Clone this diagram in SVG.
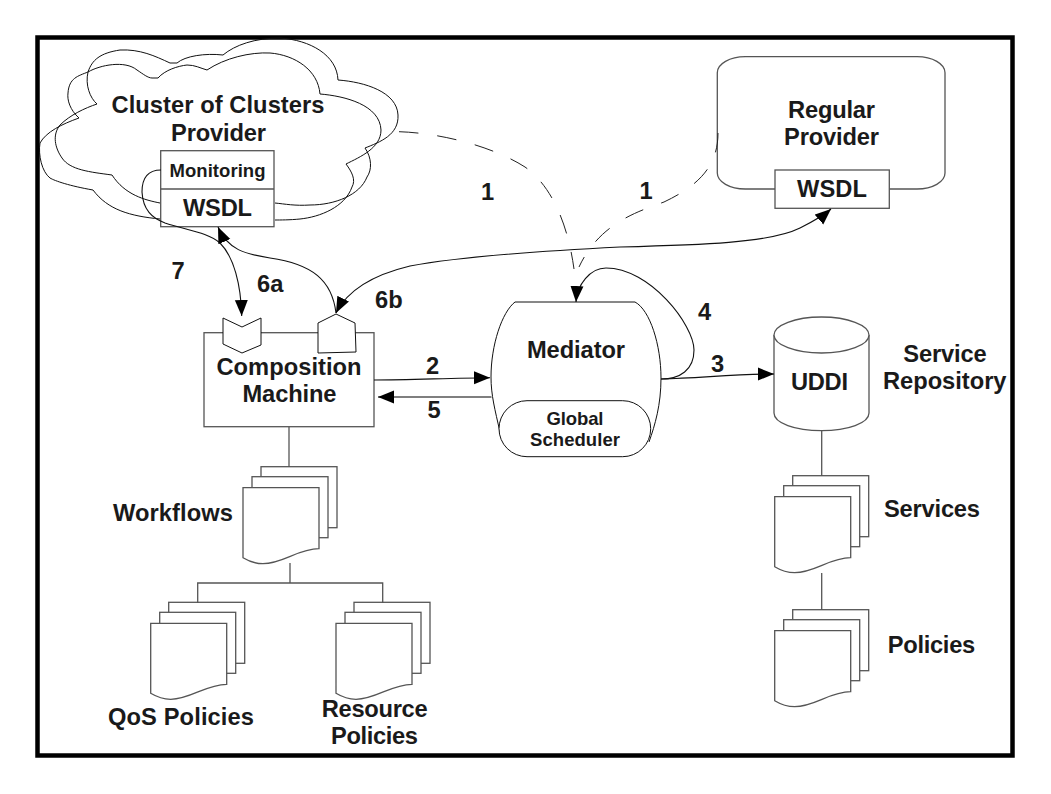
<svg xmlns="http://www.w3.org/2000/svg" xmlns:xlink="http://www.w3.org/1999/xlink" width="1051" height="794" viewBox="0 0 1051 794">
<style>
text{font-family:"Liberation Sans",Arial,sans-serif;font-weight:700;font-size:23.7px;fill:#1a1a1a}
.sm{font-size:18.5px}
.box{fill:#fff;stroke:#555;stroke-width:1.3}
.thin{fill:none;stroke:#111;stroke-width:1}
.wht{fill:#fff;stroke:#111;stroke-width:1}
.con{fill:none;stroke:#111;stroke-width:1.1}
.gry{fill:none;stroke:#555;stroke-width:1.3}
.dash{fill:none;stroke:#222;stroke-width:1;stroke-dasharray:19.5 19}
</style>
<defs>
<marker id="ah" markerUnits="userSpaceOnUse" markerWidth="17" markerHeight="14" refX="16" refY="7" orient="auto-start-reverse"><path d="M0 0.5L16 7L0 13.5Z" fill="#000"/></marker>
<g id="doc">
<rect class="box" x="18" y="-21" width="76" height="61"/>
<rect class="box" x="9" y="-11" width="76" height="61"/>
<path class="box" d="M0 0H76V61C55 61 40 76 20 76C12 76 5 73 0 70Z"/>
</g>
</defs>
<rect id="frame" x="37.5" y="37.5" width="975" height="718" fill="#fff" stroke="#000" stroke-width="4.5"/>

<g id="cloud-provider">
<path class="thin" d="M160 219C130 216 108 210 93 190C70 186 55 181 50 178C42 172 38 155 40 143C46 132 62 124 79 118C70 110 67 100 68 93C69 78 78 76 88 72C100 65 125 60 137 70C143 74 148 78 152 78L158 78C165 70 178 66 187 65C195 65 200 68 207 70C225 58 250 52 270 53C295 55 318 70 320 94C345 96 380 105 381 130C381 148 360 157 346 164C352 172 356 180 352 187C345 207 320 217 300 219C290 220 280 220 275 220"/>
<path class="thin" d="M160 203C145 200 125 195 112 175C90 172 70 170 62 158C55 148 52 135 60 125C70 115 85 108 97 104C90 98 85 85 88 72C92 60 100 53 120 50C140 49 155 56 170 63L177 63C185 56 205 53 223 55C235 45 255 38 280 38C310 40 337 55 338 80C365 82 397 92 398 115C399 135 380 142 365 148C372 158 372 170 367 177C360 195 335 205 310 205C295 206 285 204 275 203"/>
<text x="218" y="113" text-anchor="middle" textLength="213">Cluster of Clusters</text>
<text x="218.5" y="141" text-anchor="middle" textLength="95">Provider</text>
<rect class="box" x="160.7" y="150.7" width="113.3" height="76"/>
<path class="gry" d="M160.7 189H274"/>
<text class="sm" x="217.5" y="176.5" text-anchor="middle" textLength="96">Monitoring</text>
<text x="217.5" y="216" text-anchor="middle" textLength="69">WSDL</text>
</g>

<g id="regular-provider">
<rect class="box" x="717.3" y="56.7" width="227.7" height="132.3" rx="28" ry="16"/>
<text x="831.5" y="117.7" text-anchor="middle" textLength="87">Regular</text>
<text x="831.5" y="145" text-anchor="middle" textLength="95">Provider</text>
<rect class="box" x="775" y="170" width="114.3" height="38.3"/>
<text x="832" y="196.7" text-anchor="middle" textLength="70">WSDL</text>
</g>

<g id="composition-machine">
<rect class="box" x="204" y="332.7" width="170" height="94"/>
<polygon class="wht" points="223,318 242,327 261,318 261,345 242,353 223,344"/>
<polygon class="wht" points="336,314 355,323 356,352 318,353 318,323"/>
<text x="289" y="375" text-anchor="middle" textLength="145">Composition</text>
<text x="289.5" y="401.7" text-anchor="middle" textLength="94">Machine</text>
</g>

<g id="mediator">
<path class="wht" d="M500 432C495 410 491 395 491 377C491 345 502 312 515 302H635C650 310 661 345 661 378C661 405 655 425 649 442"/>
<text x="576" y="358" text-anchor="middle" textLength="98">Mediator</text>
<rect class="wht" x="499" y="400.7" width="151.7" height="56" rx="28" ry="28"/>
<text class="sm" x="575" y="425" text-anchor="middle" textLength="57">Global</text>
<text class="sm" x="575" y="446" text-anchor="middle" textLength="90">Scheduler</text>
</g>

<g id="uddi">
<path class="box" d="M774 335V413C774 423 795 430.7 821.5 430.7C848 430.7 869 423 869 413V335"/>
<ellipse class="box" cx="821.5" cy="335" rx="47.5" ry="18"/>
<text x="819.5" y="390" text-anchor="middle" textLength="57">UDDI</text>
</g>

<g id="workflows"><use href="#doc" x="243" y="487.7"/><text x="113" y="521" textLength="120">Workflows</text></g>
<g id="qos-policies"><use href="#doc" x="150.7" y="623.3"/><text x="108" y="725" textLength="146">QoS Policies</text></g>
<g id="resource-policies"><use href="#doc" x="336" y="623.3"/><text x="321.7" y="717" textLength="106">Resource</text><text x="331" y="744" textLength="87">Policies</text></g>
<g id="services"><use href="#doc" x="774.7" y="496.7"/><text x="884" y="517" textLength="96">Services</text></g>
<g id="policies"><use href="#doc" x="774.7" y="630.7"/><text x="887.7" y="653" textLength="87.5">Policies</text></g>
<g id="service-repository"><text x="903.3" y="361.7" textLength="83.5">Service</text><text x="883" y="389.3" textLength="123.5">Repository</text></g>

<g id="connectors">
<path class="gry" d="M289 427V467"/>
<path class="gry" d="M290 563V583M197.7 603V583H382.7V603"/>
<path class="gry" d="M821.7 431V476"/>
<path class="gry" d="M821.7 573V610"/>
<path class="con" marker-end="url(#ah)" d="M161 170C148 170 142 178 142 192C143 210 152 218 165 223C185 230 208 232 220 243C234 257 241 285 241.7 316"/>
<path class="con" marker-end="url(#ah)" d="M336 313C332 280 312 264 270 258C245 254 228 250 218 227"/>
<path class="con" marker-start="url(#ah)" marker-end="url(#ah)" d="M336 313C350 285 385 272 410 266C470 255 560 250 620 247C700 245 770 243 800 228C812 222 823 216 831 209"/>
<path class="con" marker-end="url(#ah)" d="M374 380C410 380 450 378 490 377.7"/>
<path class="gry" marker-end="url(#ah)" d="M491.5 397H378"/>
<path class="con" marker-end="url(#ah)" d="M661 379C700 378 735 374 774 374"/>
<path class="con" marker-end="url(#ah)" d="M661 379C680 379 694 370 694 350C694 325 650 268 606 268C590 268 577 285 576 302"/>
<path class="dash" d="M399 131.7C440 133 492 146 525 167C552 186 568 225 574 269"/>
<path class="dash" d="M718 133C718 165 700 185 664 202C640 211 600 222 579 267"/>
</g>

<g id="labels">
<text x="171.5" y="279">7</text>
<text x="257" y="291.7">6a</text>
<text x="375" y="308.3">6b</text>
<text x="426" y="374">2</text>
<text x="427.5" y="418">5</text>
<text x="711" y="372">3</text>
<text x="698" y="320">4</text>
<text x="481" y="200">1</text>
<text x="639.5" y="199">1</text>
</g>
</svg>
